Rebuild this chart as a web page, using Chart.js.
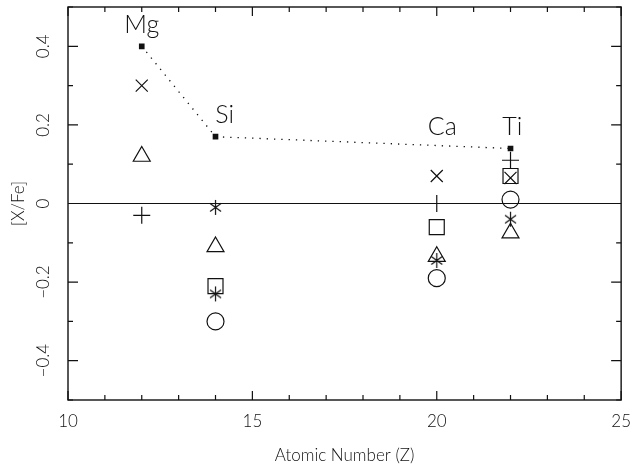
<!DOCTYPE html>
<html>
<head>
<meta charset="utf-8">
<script src="https://cdn.jsdelivr.net/npm/chart.js@4/dist/chart.umd.min.js"></script>
<style>
  body { margin: 0; background: #fff; }
  canvas { display: block; }
</style>
</head>
<body>
<canvas id="chart" width="634" height="470"></canvas>
<script>
// abundance ratios per element, one array per symbol
const elements = ['Mg', 'Si', 'Ca', 'Ti'];
const atomicNumber = [12, 14, 20, 22];
const meanRatio = [0.40, 0.17, null, 0.14];
const crossRatio = [0.30, null, 0.07, 0.065];
const triangleRatio = [0.12, -0.11, -0.135, -0.075];
const plusRatio = [-0.03, null, 0.00, 0.11];
const starRatioA = [null, -0.01, null, -0.04];
const starRatioB = [null, -0.23, -0.145, null];
const squareRatio = [null, -0.21, -0.06, 0.07];
const circleRatio = [null, -0.30, -0.19, 0.01];

// where the element names sit (data units)
const labelZ = [12, 14.25, 20.15, 22.05];
const labelRatio = [0.455, 0.225, 0.195, 0.195];

const yTicks = [-0.4, -0.2, 0, 0.2, 0.4];

const INK = '#111';
const FONT = 'Lato, "Liberation Sans", sans-serif';

function pts(vals) {
    return atomicNumber
        .map((x, i) => ({ x: x, y: vals[i] }))
        .filter(p => p.y !== null);
}

// asterisk: vertical bar plus a cross
function makeAsterisk() {
    const c = document.createElement('canvas');
    c.width = 15;
    c.height = 17;
    const g = c.getContext('2d');
    g.strokeStyle = INK;
    g.lineWidth = 1.2;
    g.beginPath();
    g.moveTo(7.5, 1); g.lineTo(7.5, 16);
    g.moveTo(2, 4.5); g.lineTo(13, 12.5);
    g.moveTo(2, 12.5); g.lineTo(13, 4.5);
    g.stroke();
    return c;
}
const asterisk = makeAsterisk();

function marker(vals, style, radius) {
    return {
        data: pts(vals),
        pointStyle: style,
        pointRadius: radius,
        pointBorderColor: INK,
        pointBackgroundColor: 'rgba(0,0,0,0)',
        pointBorderWidth: 1.2,
        showLine: false
    };
}

const framePlugin = {
    id: 'frame',
    afterDraw(chart) {
        const ctx = chart.ctx;
        const a = chart.chartArea;
        const xs = chart.scales.x;
        const ys = chart.scales.y;
        ctx.save();
        ctx.strokeStyle = INK;
        ctx.lineWidth = 1.4;
        ctx.strokeRect(a.left, a.top, a.right - a.left, a.bottom - a.top);

        ctx.lineWidth = 1.2;
        ctx.beginPath();
        // x ticks, bottom and top
        for (let z = 10; z <= 25; z++) {
            const px = xs.getPixelForValue(z);
            const len = z % 5 === 0 ? 9 : 5;
            ctx.moveTo(px, a.bottom); ctx.lineTo(px, a.bottom - len);
            ctx.moveTo(px, a.top); ctx.lineTo(px, a.top + len);
        }
        // y ticks, left and right
        for (let k = -5; k <= 5; k++) {
            const py = ys.getPixelForValue(k / 10);
            const len = k % 2 === 0 ? 10 : 5;
            ctx.moveTo(a.left, py); ctx.lineTo(a.left + len, py);
            ctx.moveTo(a.right, py); ctx.lineTo(a.right - len, py);
        }
        // zero line
        const y0 = ys.getPixelForValue(0);
        ctx.moveTo(a.left, y0); ctx.lineTo(a.right, y0);
        ctx.stroke();

        // rotated y tick labels
        ctx.fillStyle = INK;
        ctx.font = '300 17px ' + FONT;
        ctx.textAlign = 'center';
        ctx.textBaseline = 'middle';
        yTicks.forEach(v => {
            const py = ys.getPixelForValue(v);
            ctx.save();
            ctx.translate(44, py);
            ctx.rotate(-Math.PI / 2);
            ctx.fillText(v === 0 ? '0' : v.toFixed(1).replace('-', '\u2212'), 0, 0);
            ctx.restore();
        });

        // element names
        ctx.font = '300 25px ' + FONT;
        elements.forEach((name, i) => {
            ctx.fillText(name, xs.getPixelForValue(labelZ[i]), ys.getPixelForValue(labelRatio[i]));
        });
        ctx.restore();
    }
};

document.addEventListener('DOMContentLoaded', function() {
    const $ctx = document.getElementById('chart');

    new Chart($ctx, {
        type: 'scatter',
        data: {
            datasets: [
                {
                    data: pts(meanRatio),
                    pointStyle: 'rect',
                    pointRadius: 4,
                    pointBackgroundColor: INK,
                    pointBorderColor: INK,
                    pointBorderWidth: 0,
                    showLine: true,
                    borderColor: INK,
                    borderWidth: 1.3,
                    borderDash: [1.3, 6]
                },
                marker(crossRatio, 'crossRot', 8.5),
                marker(triangleRatio, 'triangle', 9.8),
                marker(plusRatio, 'cross', 8.5),
                marker(starRatioA, asterisk, 7),
                marker(starRatioB, asterisk, 7),
                marker(squareRatio, 'rect', 10.6),
                marker(circleRatio, 'circle', 8.5)
            ]
        },
        options: {
            responsive: false,
            animation: false,
            layout: { autoPadding: false, padding: { top: 7, right: 12, left: 0, bottom: 0 } },
            plugins: {
                legend: { display: false },
                tooltip: { enabled: false }
            },
            scales: {
                x: {
                    type: 'linear',
                    min: 10,
                    max: 25,
                    grid: { display: false },
                    border: { display: false },
                    ticks: {
                        stepSize: 5,
                        padding: 3,
                        color: INK,
                        font: { family: FONT, size: 17, weight: 300 }
                    },
                    title: {
                        display: true,
                        text: 'Atomic Number (Z)',
                        color: INK,
                        font: { family: FONT, size: 17, weight: 300 },
                        padding: { top: 4, bottom: 4 }
                    },
                    afterFit(scale) { scale.height = 70; }
                },
                y: {
                    type: 'linear',
                    min: -0.5,
                    max: 0.5,
                    grid: { display: false },
                    border: { display: false },
                    ticks: { display: false },
                    title: {
                        display: true,
                        text: '[X/Fe]',
                        color: INK,
                        font: { family: FONT, size: 17, weight: 300 },
                        padding: { top: 8, bottom: 0 }
                    },
                    afterFit(scale) { scale.width = 68; }
                }
            }
        },
        plugins: [framePlugin]
    });
}, false);
</script>
</body>
</html>
